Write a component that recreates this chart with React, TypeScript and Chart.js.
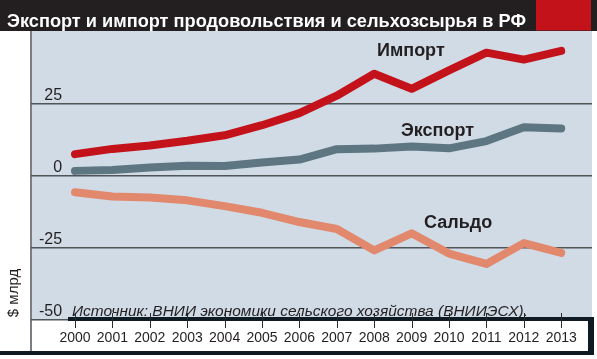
import React, { useEffect, useRef } from "react";
import { Chart, registerables } from "chart.js";

Chart.register(...registerables);

// ---- data ----
const years = [2000, 2001, 2002, 2003, 2004, 2005, 2006, 2007, 2008, 2009, 2010, 2011, 2012, 2013];
const importValues = [7.4, 9.2, 10.4, 12.0, 13.9, 17.4, 21.6, 27.6, 35.2, 30.0, 36.4, 42.5, 40.1, 43.1];
const exportValues = [1.6, 1.9, 2.8, 3.4, 3.3, 4.5, 5.5, 9.1, 9.3, 10.0, 9.4, 11.9, 16.7, 16.3];
const saldoValues = [-5.8, -7.3, -7.6, -8.6, -10.6, -12.9, -16.1, -18.5, -25.9, -20.0, -27.0, -30.6, -23.4, -26.8];
const yTickValues = [-50, -25, 0, 25];
const seriesNames = ["Импорт", "Экспорт", "Сальдо"];
const titleText = "Экспорт и импорт продовольствия и сельхозсырья в РФ";
const sourceText = "Источник: ВНИИ экономики сельского хозяйства (ВНИИЭСХ).";
const yAxisTitle = "$ млрд";

// ---- style ----
const W = 597;
const H = 359;
const FONT = "'Liberation Sans', Arial, sans-serif";
const INK = "#231f20";
const COLORS = ["#c4121a", "#5e7582", "#e2886c"];
const PLOT_BG = "#d0dbe6";
const FRAME = "#0e1a24";

const labelPlacement = [
  { x: 377, y: 56 },
  { x: 401, y: 136 },
  { x: 424, y: 228 },
];

const decorPlugin = {
  id: "decor",
  beforeDraw(chart: any) {
    const ctx = chart.ctx as CanvasRenderingContext2D;
    const ca = chart.chartArea;
    ctx.save();
    ctx.fillStyle = "#ffffff";
    ctx.fillRect(0, 0, W, H);
    ctx.fillStyle = PLOT_BG;
    ctx.fillRect(ca.left, ca.top, ca.right - ca.left, ca.bottom - ca.top);
    // title bar
    ctx.fillStyle = INK;
    ctx.fillRect(0, 0, W, 31);
    ctx.fillStyle = "#c4121a";
    ctx.fillRect(536, 0, 55, 30.5);
    // left grey rule
    ctx.fillStyle = "#7b7f84";
    ctx.fillRect(30, 31, 2, 321);
    ctx.restore();
  },
  afterDraw(chart: any) {
    const ctx = chart.ctx as CanvasRenderingContext2D;
    const xs = chart.scales.x;
    ctx.save();
    // x-axis frame
    ctx.fillStyle = FRAME;
    ctx.fillRect(68, 317, 526, 4);
    ctx.fillRect(588, 317, 6, 38);
    ctx.fillRect(0, 351, 594, 4);
    // tick marks
    ctx.strokeStyle = "#2a2a2a";
    ctx.lineWidth = 1;
    xs.ticks.forEach((t: any) => {
      const px = Math.round(xs.getPixelForValue(t.value)) + 0.5;
      ctx.beginPath();
      ctx.moveTo(px, 313);
      ctx.lineTo(px, 328);
      ctx.stroke();
    });
    // source
    ctx.fillStyle = INK;
    ctx.textAlign = "left";
    ctx.textBaseline = "alphabetic";
    ctx.font = `italic 15.5px ${FONT}`;
    ctx.fillText(sourceText, 72, 316, 456);
    // series labels
    ctx.font = `bold 18px ${FONT}`;
    seriesNames.forEach((name, i) => {
      ctx.fillText(name, labelPlacement[i].x, labelPlacement[i].y);
    });
    // title
    ctx.fillStyle = "#ffffff";
    ctx.font = `bold 19px ${FONT}`;
    ctx.fillText(titleText, 7, 26.5, 519);
    // y axis title
    ctx.fillStyle = INK;
    ctx.font = `15px ${FONT}`;
    ctx.translate(14, 293);
    ctx.rotate(-Math.PI / 2);
    ctx.textAlign = "center";
    ctx.textBaseline = "middle";
    ctx.fillText(yAxisTitle, 0, 0);
    ctx.restore();
  },
};

export default function App() {
  const ref = useRef<HTMLCanvasElement | null>(null);

  useEffect(() => {
    if (!ref.current) return;
    const series = [importValues, exportValues, saldoValues];
    const chart = new Chart(ref.current, {
      type: "line",
      data: {
        datasets: series.map((vals, i) => ({
          label: seriesNames[i],
          data: years.map((x, j) => ({ x, y: vals[j] })),
          borderColor: COLORS[i],
          borderWidth: 8,
          borderCapStyle: "round",
          borderJoinStyle: "round",
          pointRadius: 0,
          tension: 0,
          fill: false,
        })),
      },
      options: {
        responsive: false,
        animation: false,
        devicePixelRatio: 1,
        layout: { padding: { left: 0, top: 31, right: 5, bottom: 0 } },
        plugins: {
          legend: { display: false },
          tooltip: { enabled: false },
          title: { display: false },
        },
        scales: {
          x: {
            type: "linear",
            min: 1998.8235,
            max: 2013.8235,
            bounds: "data",
            afterBuildTicks: (s: any) => {
              s.ticks = years.map((v) => ({ value: v }));
            },
            afterFit: (s: any) => {
              s.height = 39;
            },
            grid: { display: false, drawTicks: false },
            border: { display: false },
            ticks: {
              autoSkip: false,
              maxRotation: 0,
              minRotation: 0,
              padding: 10,
              color: INK,
              font: { family: FONT, size: 14 },
              callback: (v: any) => String(v),
            },
          },
          y: {
            type: "linear",
            min: -50,
            max: 50,
            bounds: "data",
            afterBuildTicks: (s: any) => {
              s.ticks = yTickValues.map((v) => ({ value: v }));
            },
            afterFit: (s: any) => {
              s.width = 31;
            },
            grid: { color: "#50555a", lineWidth: 1.5, drawTicks: false },
            border: { display: false },
            ticks: {
              mirror: true,
              crossAlign: "far",
              padding: 8,
              labelOffset: -8,
              color: INK,
              font: { family: FONT, size: 16 },
              callback: (v: any) => String(v),
            },
          },
        },
      } as any,
      plugins: [decorPlugin],
    });
    return () => chart.destroy();
  }, []);

  return (
    <div style={{ position: "absolute", left: 0, top: 0, width: W, height: H }}>
      <canvas ref={ref} width={W} height={H} style={{ width: W, height: H, display: "block" }} />
    </div>
  );
}
